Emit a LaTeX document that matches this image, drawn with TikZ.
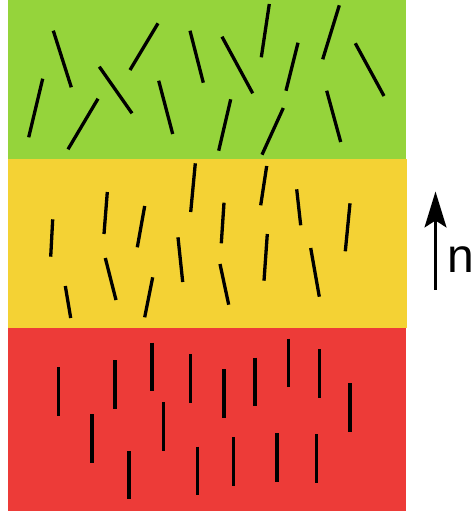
\documentclass[tikz,border=0pt]{standalone}
\usepackage{fontspec}
\setmainfont{Liberation Sans}
\usetikzlibrary{arrows.meta}
\definecolor{phaseA}{RGB}{149,212,59}
\definecolor{phaseB}{RGB}{244,210,52}
\definecolor{phaseC}{RGB}{237,59,56}
\tikzset{
  band/.style={draw=none},
  rod/.style={line width=3.3pt, line cap=butt, black},
  director/.style={line width=2.2pt, -{Stealth[length=36pt, width=22pt, inset=7pt]}},
}
\begin{document}
\begin{tikzpicture}[x=1pt, y=-1pt]
\useasboundingbox (0,0) rectangle (473,515);

% three layers
\fill[band, phaseA] (8,0) rectangle (406,158.5);
\fill[band, phaseB] (8,158.5) rectangle (406.5,327.5);
\fill[band, phaseC] (8,327.5) rectangle (406,510.5);

% isotropic layer: rods at random orientations
\foreach \xa/\ya/\xb/\yb in {
  53.3/30.7/71.3/87.3, 42.7/78.7/28.7/137.3, 98/98.7/68/149.3,
  99.3/66.7/132/113.3, 158/23.3/130/70, 158.7/80.7/172.7/134,
  190/30.7/203.3/82.7, 269.3/4/261.3/57.3, 222/36.7/252.7/93.3,
  298/42.7/286/90.7, 339.3/5.3/322.7/59.3, 355.3/43.3/384/96,
  230.7/99.3/218.7/150.7, 283.3/108/262/154.7, 326.7/90.7/340.7/142}
  \draw[rod] (\xa,\ya) -- (\xb,\yb);

% partially ordered layer: rods roughly along n
\foreach \xa/\ya/\xb/\yb in {
  195.3/163.3/190.7/212, 52.7/219.3/50.7/256.7, 107.3/192/104/234,
  144.7/206/137.3/247.3, 178/237.3/182.7/282, 105.3/258/116/300,
  152.7/277.3/144.7/317.3, 65.3/286/70.7/318, 266.7/166/260.7/205.3,
  224/202.7/221.3/243.3, 296.7/189.3/300.7/225.3, 350/203.3/345.3/251.3,
  267.3/234/264/280.7, 220/264/228.7/304.7, 310.7/248/319.3/296.7}
  \draw[rod] (\xa,\ya) -- (\xb,\yb);

% ordered layer: rods parallel to n
\foreach \x/\ya/\yb in {
  58.7/367.3/416, 115/360/408.7, 152/342.7/391.3, 190.3/354/403.3,
  92/414/462.7, 163.7/402/450.7, 129/451/499.3, 197.7/446.7/495.3,
  224/369.3/418, 255/357.7/406.3, 288.7/338.7/387.3, 319.3/349.3/398,
  350/383.3/432, 233.7/437.3/486, 277/433.3/481.7, 316.3/434.3/482.7}
  \draw[rod] (\x,\ya) -- (\x,\yb);

% director
\coordinate (ntail) at (435.5,289.5);
\coordinate (nhead) at (435.5,191.5);
\draw[director] (ntail) -- (nhead);
\node[anchor=base west, inner sep=0pt, font=\fontsize{48}{48}\selectfont] (nlabel) at (447.5,272.7) {n};
\end{tikzpicture}
\end{document}
